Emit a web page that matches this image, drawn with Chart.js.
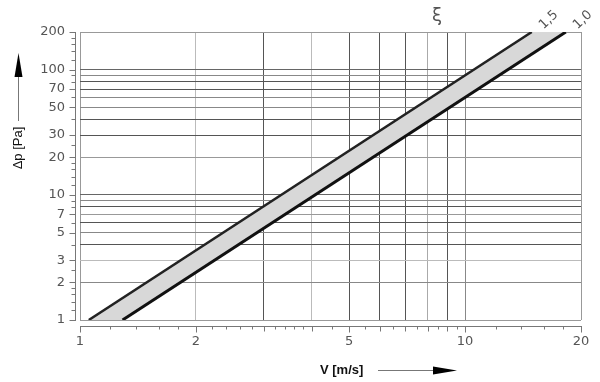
<!DOCTYPE html>
<html>
<head>
<meta charset="utf-8">
<script src="https://cdn.jsdelivr.net/npm/chart.js@4.4.1/dist/chart.umd.min.js"></script>
<style>
  html, body { margin: 0; padding: 0; background: #fff; }
  #wrap { width: 600px; height: 382px; }
</style>
</head>
<body>
<div id="wrap"><canvas id="chart"></canvas></div>
<script>
// end points of the two ξ lines (straight on log-log)
const dp = [1, 200];          // Δp [Pa]
const v15 = [1.054, 14.9];    // ξ = 1,5
const v10 = [1.29, 18.26];    // ξ = 1,0
const lineNames = ["1,5", "1,0"];

// grid lines, labels and ruler ticks
const xGrid = [1, 2, 3, 4, 5, 6, 7, 8, 9, 10, 20];
const xLabels = [1, 2, 5, 10, 20];
const xMinor = [1.2, 1.4, 1.6, 1.8, 2.2, 2.4, 2.6, 2.8, 3.2, 3.4, 3.6, 3.8, 4.5, 5.5, 6.5, 7.5, 8.5, 9.5, 12, 14, 16, 18];
const yGrid = [1, 2, 3, 4, 5, 6, 7, 8, 9, 10, 20, 30, 40, 50, 60, 70, 80, 90, 100, 200];
const yLabels = [1, 2, 3, 5, 7, 10, 20, 30, 50, 70, 100, 200];
const yMinor = [1.2, 1.4, 1.6, 1.8, 2.5, 12, 14, 16, 18, 25, 120, 140, 160, 180];

const xShade = {1: "#999", 2: "#bbb", 3: "#555", 4: "#bbb", 5: "#555", 6: "#555", 7: "#555", 8: "#aaa", 9: "#555", 10: "#888", 20: "#999"};
const yShade = {1: "#999", 2: "#888", 3: "#bbb", 4: "#555", 5: "#888", 6: "#555", 7: "#999", 8: "#555", 9: "#888", 10: "#666",
  20: "#999", 30: "#555", 40: "#555", 50: "#888", 60: "#888", 70: "#555", 80: "#555", 90: "#888", 100: "#666", 200: "#999"};

const pts = (xs, ys) => xs.map((v, i) => ({x: v, y: ys[i]}));

const extras = {
  id: "extras",
  afterDraw(chart) {
    const {ctx, chartArea: a, scales: {x, y}} = chart;
    ctx.save();
    ctx.lineWidth = 1;
    ctx.strokeStyle = "#777";

    // x ruler under the plot
    const ry = a.bottom + 6.5;
    ctx.beginPath();
    ctx.moveTo(a.left, ry);
    ctx.lineTo(a.right + 1, ry);
    xGrid.forEach(v => {
      const px = Math.round(x.getPixelForValue(v)) + 0.5;
      ctx.moveTo(px, ry);
      ctx.lineTo(px, ry + (xLabels.includes(v) ? 6 : 5));
    });
    xMinor.forEach(v => {
      const px = Math.round(x.getPixelForValue(v)) + 0.5;
      ctx.moveTo(px, ry);
      ctx.lineTo(px, ry + 3);
    });
    ctx.stroke();

    // y ruler left of the plot
    const rx = a.left - 4.5;
    ctx.beginPath();
    ctx.moveTo(rx, a.top);
    ctx.lineTo(rx, a.bottom + 1);
    yGrid.forEach(v => {
      const py = Math.round(y.getPixelForValue(v)) + 0.5;
      ctx.moveTo(rx, py);
      ctx.lineTo(rx - (yLabels.includes(v) ? 6 : 4), py);
    });
    yMinor.forEach(v => {
      const py = Math.round(y.getPixelForValue(v)) + 0.5;
      ctx.moveTo(rx, py);
      ctx.lineTo(rx - 4, py);
    });
    ctx.stroke();

    // axis titles with arrows
    ctx.fillStyle = "#111";
    ctx.font = "bold 13px 'Liberation Sans', Arial, sans-serif";
    ctx.textAlign = "left";
    ctx.textBaseline = "middle";
    ctx.fillText("V [m/s]", 320, 370);
    ctx.strokeStyle = "#777";
    ctx.beginPath();
    ctx.moveTo(378, 370.5);
    ctx.lineTo(434, 370.5);
    ctx.stroke();
    ctx.fillStyle = "#000";
    ctx.beginPath();
    ctx.moveTo(457, 370.5);
    ctx.lineTo(433, 366.5);
    ctx.lineTo(433, 374.5);
    ctx.closePath();
    ctx.fill();

    ctx.save();
    ctx.translate(18, 148);
    ctx.rotate(-Math.PI / 2);
    ctx.textAlign = "center";
    ctx.fillStyle = "#111";
    ctx.font = "13px 'Liberation Sans', Arial, sans-serif";
    ctx.fillText("Δp [Pa]", 0, 0);
    ctx.restore();
    ctx.beginPath();
    ctx.moveTo(18.5, 121);
    ctx.lineTo(18.5, 76);
    ctx.stroke();
    ctx.beginPath();
    ctx.moveTo(18.5, 53);
    ctx.lineTo(14.5, 77);
    ctx.lineTo(22.5, 77);
    ctx.closePath();
    ctx.fill();

    // ξ and the line names at the upper ends
    ctx.fillStyle = "#555";
    ctx.font = "18px 'DejaVu Sans', sans-serif";
    ctx.textAlign = "center";
    ctx.fillText("ξ", 437, 16);
    ctx.font = "13px 'DejaVu Sans', sans-serif";
    [v15, v10].forEach((vs, i) => {
      const px = x.getPixelForValue(vs[1]);
      const py = y.getPixelForValue(dp[1]);
      ctx.save();
      ctx.translate(px + 17, py - 12);
      ctx.rotate(-0.75);
      ctx.fillText(lineNames[i], 0, 0);
      ctx.restore();
    });
    ctx.restore();
  }
};

new Chart(document.getElementById("chart").getContext("2d"), {
  type: "line",
  data: {
    datasets: [
      {
        label: lineNames[1],
        data: pts(v10, dp),
        borderColor: "#111",
        borderWidth: 3,
        pointRadius: 0,
        fill: false,
      },
      {
        label: lineNames[0],
        data: pts(v15, dp),
        borderColor: "#222",
        borderWidth: 2.5,
        pointRadius: 0,
        fill: false,
      },
      {
        label: "band",
        data: [
          {x: v15[0], y: dp[0]}, {x: v15[1], y: dp[1]},
          {x: v10[1], y: dp[1]}, {x: v10[0], y: dp[0]},
        ],
        borderWidth: 0,
        borderColor: "rgba(0,0,0,0)",
        backgroundColor: "#d8d8d8",
        pointRadius: 0,
        fill: "shape",
      },
    ],
  },
  options: {
    responsive: true,
    maintainAspectRatio: false,
    animation: false,
    events: [],
    layout: { padding: { top: 32, right: 19, left: 0, bottom: 0 } },
    plugins: {
      legend: { display: false },
      tooltip: { enabled: false },
    },
    scales: {
      x: {
        type: "logarithmic",
        min: 1,
        max: 20,
        afterFit: s => { s.height = 62; s.paddingLeft = 0; s.paddingRight = 0; },
        afterBuildTicks: s => { s.ticks = xGrid.map(v => ({value: v})); },
        border: { display: false },
        grid: {
          drawTicks: false,
          color: c => xShade[c.tick.value] || "#888",
        },
        ticks: {
          autoSkip: false,
          maxRotation: 0,
          padding: 14,
          color: "#555",
          font: { family: "DejaVu Sans", size: 13 },
          callback: v => (xLabels.includes(v) ? String(v) : ""),
        },
      },
      y: {
        type: "logarithmic",
        min: 1,
        max: 200,
        afterFit: s => { s.width = 80; s.paddingTop = 0; s.paddingBottom = 0; },
        afterBuildTicks: s => { s.ticks = yGrid.map(v => ({value: v})); },
        border: { display: false },
        grid: {
          drawTicks: false,
          color: c => yShade[c.tick.value] || "#888",
        },
        ticks: {
          autoSkip: false,
          padding: 15,
          color: "#555",
          font: { family: "DejaVu Sans", size: 13 },
          callback: v => (yLabels.includes(v) ? String(v) : ""),
        },
      },
    },
  },
  plugins: [extras],
});
</script>
</body>
</html>
